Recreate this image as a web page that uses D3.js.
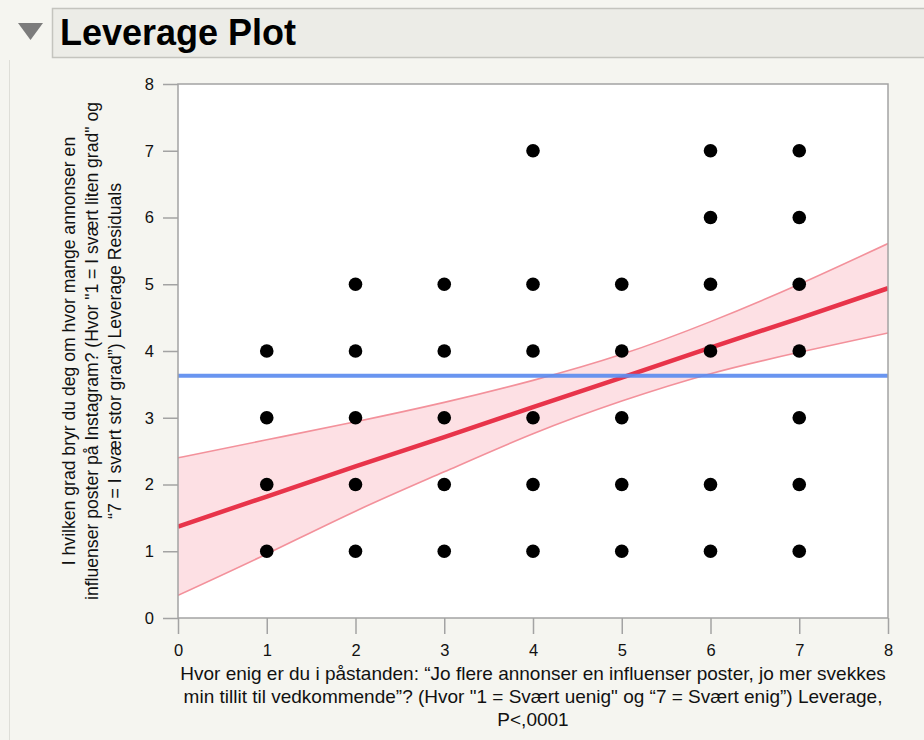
<!DOCTYPE html>
<html>
<head>
<meta charset="utf-8">
<script src="https://cdn.jsdelivr.net/npm/d3@7"></script>
<style>
  html, body { margin: 0; padding: 0; background: #f5f5f0; }
  svg { display: block; }
  text { font-family: "Liberation Sans", Arial, Helvetica, sans-serif; }
</style>
</head>
<body>
<svg id="chart" width="924" height="740"></svg>
<script>
// ---- data ----
const titleText = "Leverage Plot";
const xTickValues = [0, 1, 2, 3, 4, 5, 6, 7, 8];
const yTickValues = [0, 1, 2, 3, 4, 5, 6, 7, 8];
const pointColumns = [1, 2, 3, 4, 5, 6, 7];
const pointValues = [
  [1, 2, 3, 4],
  [1, 2, 3, 4, 5],
  [1, 2, 3, 4, 5],
  [1, 2, 3, 4, 5, 7],
  [1, 2, 3, 4, 5],
  [1, 2, 4, 5, 6, 7],
  [1, 2, 3, 4, 5, 6, 7]
];
const meanY = 3.63;
const fitX = [0, 1, 2, 3, 4, 5, 6, 7, 8];
const fitY = [1.37, 1.82, 2.27, 2.71, 3.16, 3.60, 4.05, 4.49, 4.94];
const bandUpper = [2.40, 2.67, 2.94, 3.23, 3.56, 3.95, 4.44, 5.00, 5.61];
const bandLower = [0.34, 0.96, 1.60, 2.19, 2.76, 3.25, 3.66, 3.98, 4.27];
const yLabelLines = [
  "I hvilken grad bryr du deg om hvor mange annonser en",
  "influenser poster på Instagram? (Hvor \"1 = I svært liten grad\" og",
  "“7 = I svært stor grad”) Leverage Residuals"
];
const xLabelLines = [
  "Hvor enig er du i påstanden: “Jo flere annonser en influenser poster, jo mer svekkes",
  "min tillit til vedkommende”? (Hvor \"1 = Svært uenig\" og “7 = Svært enig”) Leverage,",
  "P<,0001"
];

// ---- layout ----
const svg = d3.select("#chart");
const plot = { left: 178, right: 888, top: 84, bottom: 618 };
const x = d3.scaleLinear().domain([0, 8]).range([plot.left, plot.right]);
const y = d3.scaleLinear().domain([0, 8]).range([plot.bottom, plot.top]);

// panel background / border
svg.append("rect").attr("x", 0).attr("y", 0).attr("width", 924).attr("height", 740).attr("fill", "#f5f5f0");
svg.append("line").attr("x1", 9.5).attr("x2", 9.5).attr("y1", 60).attr("y2", 740)
  .attr("stroke", "#dedeD8").attr("stroke-width", 1);

// header
svg.append("rect").attr("x", 52.5).attr("y", 8.5).attr("width", 880).attr("height", 49)
  .attr("fill", "#ececE7").attr("stroke", "#c4c4be").attr("stroke-width", 1.5);
svg.append("path").attr("d", "M18,23 L43,23 L30.5,40 Z").attr("fill", "#7c7c7c");
svg.append("text").attr("x", 60).attr("y", 45).attr("font-size", 36).attr("font-weight", "bold")
  .attr("fill", "#000").text(titleText);

// plot background
svg.append("rect").attr("x", plot.left).attr("y", plot.top)
  .attr("width", plot.right - plot.left).attr("height", plot.bottom - plot.top)
  .attr("fill", "#ffffff");

// axes
const axisColor = "#a3a3a3";
const yAxis = svg.append("g").attr("transform", `translate(${plot.left},0)`)
  .call(d3.axisLeft(y).tickValues(yTickValues).tickSize(15).tickPadding(9).tickFormat(d3.format("d")));
const xAxis = svg.append("g").attr("transform", `translate(0,${plot.bottom})`)
  .call(d3.axisBottom(x).tickValues(xTickValues).tickSize(16).tickPadding(10).tickFormat(d3.format("d")));
[xAxis, yAxis].forEach(g => {
  g.select(".domain").remove();
  g.selectAll(".tick line").attr("stroke", axisColor).attr("stroke-width", 1.5);
  g.selectAll(".tick text").attr("fill", "#111").attr("font-size", 16.5)
    .attr("font-family", "'Liberation Sans', Arial, sans-serif");
});

// clip
svg.append("clipPath").attr("id", "clip").append("rect")
  .attr("x", plot.left).attr("y", plot.top)
  .attr("width", plot.right - plot.left).attr("height", plot.bottom - plot.top);
const inner = svg.append("g").attr("clip-path", "url(#clip)");

// confidence band
const bandData = fitX.map((d, i) => ({ x: d, lo: bandLower[i], hi: bandUpper[i] }));
inner.append("path").datum(bandData)
  .attr("d", d3.area().curve(d3.curveNatural).x(d => x(d.x)).y0(d => y(d.lo)).y1(d => y(d.hi)))
  .attr("fill", "#fde0e4");
["hi", "lo"].forEach(k => {
  inner.append("path").datum(bandData)
    .attr("d", d3.line().curve(d3.curveNatural).x(d => x(d.x)).y(d => y(d[k])))
    .attr("fill", "none").attr("stroke", "#f3919b").attr("stroke-width", 1.6);
});

// fit line
inner.append("path").datum(fitX.map((d, i) => [d, fitY[i]]))
  .attr("d", d3.line().x(d => x(d[0])).y(d => y(d[1])))
  .attr("fill", "none").attr("stroke", "#e8344a").attr("stroke-width", 4.5);

// points
const pts = [];
pointColumns.forEach((c, i) => pointValues[i].forEach(v => pts.push([c, v])));
inner.selectAll("circle.pt").data(pts).enter().append("circle")
  .attr("class", "pt").attr("cx", d => x(d[0])).attr("cy", d => y(d[1])).attr("r", 6.8)
  .attr("fill", "#000");

// mean line
inner.append("line").attr("x1", plot.left).attr("x2", plot.right)
  .attr("y1", y(meanY)).attr("y2", y(meanY))
  .attr("stroke", "#5c8cef").attr("stroke-width", 4).attr("stroke-opacity", 0.92);

// plot frame
svg.append("rect").attr("x", plot.left).attr("y", plot.top)
  .attr("width", plot.right - plot.left).attr("height", plot.bottom - plot.top)
  .attr("fill", "none").attr("stroke", axisColor).attr("stroke-width", 1.5);

// y label
const yl = svg.append("text").attr("transform", `translate(0,${(plot.top + plot.bottom) / 2}) rotate(-90)`)
  .attr("text-anchor", "middle").attr("font-size", 17.6).attr("fill", "#111");
yLabelLines.forEach((t, i) => yl.append("tspan").attr("x", 0).attr("y", 75 + i * 23).text(t));

// x label
const xl = svg.append("text").attr("text-anchor", "middle").attr("font-size", 19).attr("fill", "#111");
xLabelLines.forEach((t, i) => xl.append("tspan").attr("x", 533).attr("y", 680 + i * 23).text(t));
</script>
</body>
</html>
